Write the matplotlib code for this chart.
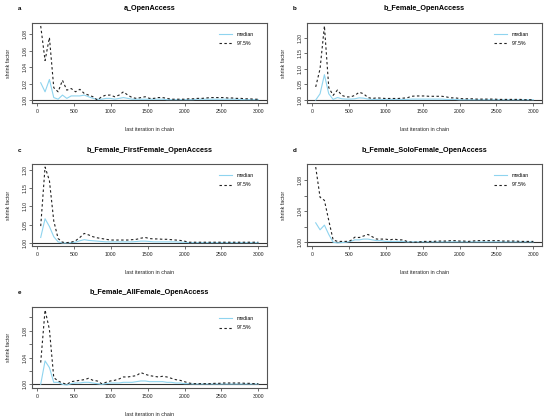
import matplotlib
matplotlib.use("Agg")
import matplotlib.pyplot as plt

plt.rcParams['font.family'] = ['Liberation Sans', 'DejaVu Sans']

last_iter = [51, 110, 169, 228, 287, 346, 405, 464, 523, 582, 641, 700, 759, 818, 877,
             936, 995, 1054, 1113, 1172, 1231, 1290, 1349, 1408, 1467, 1526, 1585, 1644,
             1703, 1762, 1821, 1880, 1939, 1998, 2057, 2116, 2175, 2234, 2293, 2352, 2411,
             2470, 2529, 2588, 2647, 2706, 2765, 2824, 2883, 2942, 3000]

titles = ["a_OpenAccess", "b_Female_OpenAccess", "b_Female_FirstFemale_OpenAccess",
          "b_Female_SoloFemale_OpenAccess", "b_Female_AllFemale_OpenAccess"]
letters = ["a", "b", "c", "d", "e"]

a_median = [1.021, 1.010, 1.025, 1.003, 1.001, 1.006, 1.002, 1.005, 1.005, 1.005,
            1.006, 1.004, 1.002, 1.001, 1.001, 1.002, 1.002, 1.001, 1.002, 1.003,
            1.002, 1.001, 1.001, 1.001, 1.001, 1.001, 1.001, 1.001, 1.001, 1.0005,
            1.0005, 1.0005, 1.0005, 1.0005, 1.0005, 1.0005, 1.001, 1.001, 1.001, 1.001,
            1.001, 1.001, 1.001, 1.001, 1.001, 1.001, 1.0005, 1.0005, 1.0005, 1.0005, 1.0005]
a_q975 = [1.090, 1.048, 1.076, 1.015, 1.010, 1.024, 1.012, 1.014, 1.010, 1.013,
          1.008, 1.006, 1.004, 1.000, 1.004, 1.006, 1.006, 1.004, 1.006, 1.010,
          1.006, 1.003, 1.002, 1.003, 1.004, 1.002, 1.002, 1.003, 1.003, 1.002,
          1.001, 1.001, 1.001, 1.001, 1.0015, 1.0015, 1.002, 1.002, 1.0025, 1.003,
          1.003, 1.003, 1.003, 1.0025, 1.0025, 1.002, 1.002, 1.0015, 1.0015, 1.001, 1.001]

b_median = [1.000, 1.020, 1.081, 1.020, 1.002, 1.008, 1.004, 1.003, 1.003, 1.004,
            1.007, 1.006, 1.003, 1.002, 1.002, 1.002, 1.002, 1.002, 1.002, 1.002,
            1.002, 1.002, 1.003, 1.003, 1.003, 1.003, 1.003, 1.003, 1.003, 1.003,
            1.002, 1.002, 1.002, 1.001, 1.001, 1.001, 1.001, 1.001, 1.001, 1.001,
            1.001, 1.001, 1.001, 1.001, 1.001, 1.001, 1.001, 1.001, 1.001, 1.001, 1.001]
b_q975 = [1.042, 1.100, 1.237, 1.040, 1.015, 1.032, 1.015, 1.010, 1.010, 1.015,
          1.025, 1.020, 1.008, 1.005, 1.007, 1.006, 1.005, 1.005, 1.005, 1.005,
          1.006, 1.007, 1.012, 1.013, 1.013, 1.013, 1.012, 1.012, 1.012, 1.012,
          1.010, 1.007, 1.007, 1.005, 1.004, 1.004, 1.004, 1.003, 1.003, 1.003,
          1.003, 1.003, 1.002, 1.002, 1.002, 1.002, 1.002, 1.002, 1.001, 1.001, 1.001]

c_median = [1.015, 1.066, 1.045, 1.017, 1.003, 1.000, 1.000, 1.001, 1.002, 1.006,
            1.009, 1.007, 1.006, 1.005, 1.004, 1.003, 1.003, 1.003, 1.003, 1.003,
            1.003, 1.003, 1.004, 1.005, 1.005, 1.004, 1.003, 1.003, 1.003, 1.003,
            1.003, 1.003, 1.002, 1.002, 1.001, 1.001, 1.001, 1.001, 1.001, 1.001,
            1.001, 1.001, 1.001, 1.001, 1.001, 1.001, 1.001, 1.001, 1.001, 1.001, 1.001]
c_q975 = [1.046, 1.207, 1.170, 1.060, 1.012, 1.002, 1.001, 1.002, 1.006, 1.015,
          1.026, 1.022, 1.017, 1.014, 1.012, 1.010, 1.008, 1.008, 1.008, 1.008,
          1.008, 1.009, 1.010, 1.013, 1.015, 1.012, 1.011, 1.011, 1.010, 1.010,
          1.009, 1.008, 1.007, 1.005, 1.002, 1.002, 1.002, 1.002, 1.002, 1.002,
          1.002, 1.002, 1.002, 1.002, 1.002, 1.002, 1.002, 1.002, 1.002, 1.002, 1.002]

d_median = [1.025, 1.016, 1.022, 1.010, 1.000, 0.999, 0.9995, 1.000, 1.001, 1.003,
            1.003, 1.004, 1.004, 1.003, 1.002, 1.002, 1.001, 1.001, 1.001, 1.001,
            1.001, 1.0005, 1.0005, 1.0005, 1.0005, 1.0005, 1.0005, 1.0005, 1.0005, 1.0005,
            1.0005, 1.0005, 1.0005, 1.0005, 1.0005, 1.0005, 1.0005, 1.0005, 1.0005, 1.0005,
            1.0005, 1.0005, 1.0005, 1.0005, 1.0005, 1.0005, 1.0005, 1.0005, 1.0005, 1.0005, 1.0005]
d_q975 = [1.097, 1.058, 1.054, 1.028, 1.003, 1.001, 1.001, 1.001, 1.002, 1.0065,
          1.006, 1.008, 1.010, 1.007, 1.004, 1.004, 1.004, 1.003, 1.004, 1.003,
          1.003, 1.001, 1.000, 1.000, 1.0005, 1.001, 1.001, 1.001, 1.0015, 1.0015,
          1.0015, 1.002, 1.002, 1.0015, 1.0015, 1.001, 1.0015, 1.002, 1.002, 1.002,
          1.002, 1.002, 1.002, 1.0015, 1.0015, 1.0015, 1.0015, 1.001, 1.001, 1.001, 1.001]

e_median = [1.000, 1.035, 1.025, 1.003, 1.003, 1.000, 0.999, 1.001, 1.002, 1.002,
            1.003, 1.003, 1.002, 1.001, 1.000, 1.001, 1.002, 1.002, 1.002, 1.003,
            1.003, 1.003, 1.004, 1.005, 1.005, 1.004, 1.004, 1.004, 1.004, 1.003,
            1.003, 1.002, 1.002, 1.001, 1.001, 1.0005, 1.0005, 1.0005, 1.0005, 1.0005,
            1.0005, 1.0005, 1.0005, 1.0005, 1.0005, 1.0005, 1.0005, 1.0005, 1.0005, 1.0005, 1.0005]
e_q975 = [1.0325, 1.111, 1.082, 1.010, 1.005, 1.002, 1.000, 1.004, 1.005, 1.006,
          1.007, 1.009, 1.006, 1.005, 1.001, 1.003, 1.005, 1.006, 1.008, 1.011,
          1.011, 1.012, 1.013, 1.0175, 1.015, 1.013, 1.012, 1.011, 1.012, 1.011,
          1.009, 1.007, 1.006, 1.004, 1.002, 1.001, 1.001, 1.001, 1.001, 1.001,
          1.0015, 1.0015, 1.002, 1.002, 1.002, 1.002, 1.002, 1.0015, 1.0015, 1.001, 1.001]

medians = [a_median, b_median, c_median, d_median, e_median]
q975s = [a_q975, b_q975, c_q975, d_q975, e_q975]

yticks = [[1.00, 1.02, 1.04, 1.06, 1.08],
          [1.00, 1.05, 1.10, 1.15, 1.20],
          [1.00, 1.05, 1.10, 1.15, 1.20],
          [1.00, 1.02, 1.04, 1.06, 1.08],
          [1.00, 1.02, 1.04, 1.06, 1.08, 1.10]]
yticklabels = [["1.00", "1.02", "1.04", "1.06", "1.08"],
               ["1.00", "1.05", "1.10", "1.15", "1.20"],
               ["1.00", "1.05", "1.10", "1.15", "1.20"],
               ["1.00", "", "1.04", "", "1.08"],
               ["1.00", "", "1.04", "", "1.08", ""]]
xticks = [0, 500, 1000, 1500, 2000, 2500, 3000]

W, H = 550, 417
fig = plt.figure(figsize=(W / 100, H / 100), dpi=100)

# axes boxes in pixels: (left, top, right, bottom)
boxes = [(32, 23, 267, 103), (307, 23, 542, 103),
         (32, 164, 267, 246), (307, 164, 542, 246),
         (32, 307, 267, 388)]

median_col = '#8fd4ef'
frame_col = '#555555'
fs_tick = 3.7
fs_lab = 3.8
fs_title = 5.2

for i in range(5):
    l, t, r, b = boxes[i]
    ax = fig.add_axes([l / W, 1 - b / H, (r - l) / W, (b - t) / H])
    ax.axhline(1.0, color='#333333', lw=0.8, zorder=1)
    ax.plot(last_iter, medians[i], color=median_col, lw=0.8, label='median', zorder=2)
    ax.plot(last_iter, q975s[i], color='#222222', lw=0.8, ls=(0, (2.2, 2.2)),
            label='97.5%', zorder=3)
    ax.margins(x=0.04, y=0.04)
    ax.set_xticks(xticks)
    ax.set_xticklabels([str(v) for v in xticks])
    ax.set_yticks(yticks[i])
    ax.set_yticklabels(yticklabels[i], rotation=90, va='center')
    ax.tick_params(axis='both', labelsize=fs_tick, length=2.4, width=0.6,
                   color=frame_col, labelcolor='#222222')
    ax.tick_params(axis='x', pad=2.2)
    ax.tick_params(axis='y', pad=1.0)
    for sp in ax.spines.values():
        sp.set_color(frame_col)
        sp.set_linewidth(0.8)
    ax.set_xlabel('last iteration in chain', fontsize=fs_lab, color='#222222')
    ax.set_ylabel('shrink factor', fontsize=fs_lab, color='#222222')
    ax.xaxis.set_label_coords(0.5, -24 / (b - t))
    ax.yaxis.set_label_coords(-21 / (r - l), 0.5)
    ax.set_title(titles[i], fontsize=fs_title, fontweight='bold', pad=9)
    ax.legend(loc='upper right', frameon=False, fontsize=fs_tick,
              handlelength=2.5, handletextpad=1.0, labelspacing=0.9,
              bbox_to_anchor=(0.965, 0.95))
    fig.text((l - 12) / W, 1 - (t - 14) / H, letters[i], fontsize=4.5,
             fontweight='bold', ha='center', va='center')

fig.savefig('out.png', dpi=100)
